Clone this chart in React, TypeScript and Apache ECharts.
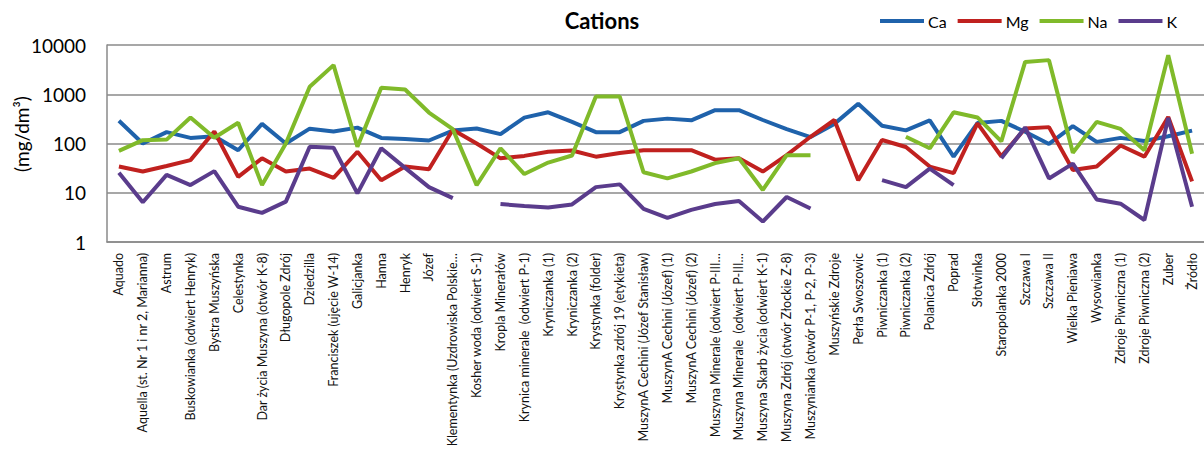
import React, { useEffect, useRef } from "react";
import * as echarts from "echarts";

// Mineral water brands (category axis)
const waters: string[] = [
  "Aquado",
  "Aquella (st. Nr 1 i nr 2, Marianna)",
  "Astrum",
  "Buskowianka (odwiert Henryk)",
  "Bystra Muszyńska",
  "Celestynka",
  "Dar życia Muszyna (otwór K-8)",
  "Długopole Zdrój",
  "Dziedzilla",
  "Franciszek (ujęcie W-14)",
  "Galicjanka",
  "Hanna",
  "Henryk",
  "Józef",
  "Klementynka (Uzdrowiska Polskie…",
  "Kosher woda (odwiert S-1)",
  "Kropla Minerałów",
  "Krynica minerale  (odwiert P-1)",
  "Kryniczanka (1)",
  "Kryniczanka (2)",
  "Krystynka (folder)",
  "Krystynka zdrój 19 (etykieta)",
  "MuszynA Cechini (Józef Stanisław)",
  "MuszynA Cechini (Józef) (1)",
  "MuszynA Cechini (Józef) (2)",
  "Muszyna Minerale (odwiert P-III…",
  "Muszyna Minerale  (odwiert P-III…",
  "Muszyna Skarb życia (odwiert K-1)",
  "Muszyna Zdrój (otwór Złockie Z-8)",
  "Muszynianka (otwór P-1, P-2, P-3)",
  "Muszyńskie Zdroje",
  "Perła Swoszowic",
  "Piwniczanka (1)",
  "Piwniczanka (2)",
  "Polanica Zdrój",
  "Poprad",
  "Słotwinka",
  "Staropolanka 2000",
  "Szczawa I",
  "Szczawa II",
  "Wielka Pieniawa",
  "Wysowianka",
  "Zdroje Piwniczna (1)",
  "Zdroje Piwniczna (2)",
  "Zuber",
  "Żródło",
];

// Cation concentrations, mg/dm³ (null = not reported)
const ca: (number | null)[] = [
  290, 100, 170, 130, 140, 73, 250, 100, 200, 175, 210, 130, 124, 115, 183, 202,
  155, 335, 430, 275, 170, 170, 288, 320, 295, 475, 475, 300, 195, 135, 250, 640,
  230, 185, 295, 54, 260, 288, 173, 98, 225, 108, 130, 112, 140, 183,
];
const mg: (number | null)[] = [
  34, 27, 35, 46, 175, 21, 50, 27, 31, 20, 68, 18, 34, 30, 190, 100,
  50, 56, 68, 72, 54, 64, 73, 73, 73, 47, 50, 27, 58, 137, 300, 18,
  118, 85, 34, 25, 256, 55, 202, 215, 29, 34, 91, 54, 345, 17,
];
const na: (number | null)[] = [
  71, 117, 120, 338, 131, 263, 14.3, 100, 1420, 3900, 86, 1360, 1250, 425, 195, 14.3,
  80, 24, 41, 57, 900, 900, 26, 19.6, 27, 40, 50, 11.4, 58, 58, null, null,
  null, 137, 80, 430, 338, 110, 4540, 4930, 65, 275, 198, 73, 6200, 62,
];
const k: (number | null)[] = [
  25.5, 6.4, 23, 14.3, 27.5, 5.2, 3.9, 6.6, 86, 82, 9.7, 80, 32, 13, 7.8, null,
  5.9, 5.4, 5.0, 5.8, 13, 14.8, 4.7, 3.1, 4.5, 5.9, 6.8, 2.6, 8.2, 4.8, null, null,
  18, 13, 31, 14.3, null, 50, 212, 19.5, 39, 7.3, 6.0, 2.8, 330, 5.2,
];

const seriesNames = ["Ca", "Mg", "Na", "K"];
const seriesColors = ["#1F62AB", "#C0211F", "#80BA2A", "#5A3C8C"];
const seriesData = [ca, mg, na, k];

const FONT = "Lato, 'Open Sans', sans-serif";

export default function App() {
  const ref = useRef<HTMLDivElement>(null);

  useEffect(() => {
    if (!ref.current) return;
    const chart = echarts.init(ref.current, null, { renderer: "svg" });
    chart.setOption({
      animation: false,
      backgroundColor: "#ffffff",
      textStyle: { fontFamily: FONT },
      title: {
        text: "Cations",
        left: 597,
        top: 4,
        textAlign: "center",
        textStyle: { fontFamily: FONT, fontSize: 22, fontWeight: "bold", color: "#000" },
      },
      legend: {
        data: seriesNames,
        left: 875,
        top: 8,
        icon: "rect",
        itemWidth: 44,
        itemHeight: 4,
        itemGap: 11,
        textStyle: { fontFamily: FONT, fontSize: 16, color: "#000", padding: [0, 0, 0, -1] },
      },
      // Y-axis title, rotated
      graphic: [
        {
          type: "text",
          x: 21,
          y: 134,
          rotation: Math.PI / 2,
          style: {
            text: "(mg/dm³)",
            fontFamily: FONT,
            fontSize: 19,
            fill: "#000",
            align: "center",
            verticalAlign: "middle",
          },
        },
      ],
      grid: { left: 107, top: 45, width: 1099, height: 197 },
      xAxis: {
        type: "category",
        data: waters,
        boundaryGap: true,
        axisLine: { show: true, lineStyle: { color: "#8a8a8a", width: 1.5 } },
        axisTick: { show: false },
        axisLabel: {
          interval: 0,
          rotate: 90,
          margin: 11,
          fontSize: 12.5,
          color: "#111",
          fontFamily: FONT,
        },
      },
      yAxis: {
        type: "log",
        logBase: 10,
        min: 1,
        max: 10000,
        axisLine: { show: true, lineStyle: { color: "#8a8a8a", width: 1.5 } },
        axisTick: { show: false },
        axisLabel: {
          fontSize: 19,
          color: "#000",
          margin: 21,
          fontFamily: FONT,
          formatter: (v: number) => String(Math.round(v)),
        },
        splitLine: { show: true, lineStyle: { color: "#8a8a8a", width: 1.5 } },
      },
      series: seriesNames.map((name, i) => ({
        name,
        type: "line",
        data: seriesData[i],
        symbol: "none",
        connectNulls: false,
        itemStyle: { color: seriesColors[i] },
        lineStyle: { color: seriesColors[i], width: 4 },
      })),
    });
    return () => chart.dispose();
  }, []);

  return (
    <div
      ref={ref}
      style={{ position: "fixed", left: 0, top: 0, width: 1204, height: 461, background: "#fff" }}
    />
  );
}
